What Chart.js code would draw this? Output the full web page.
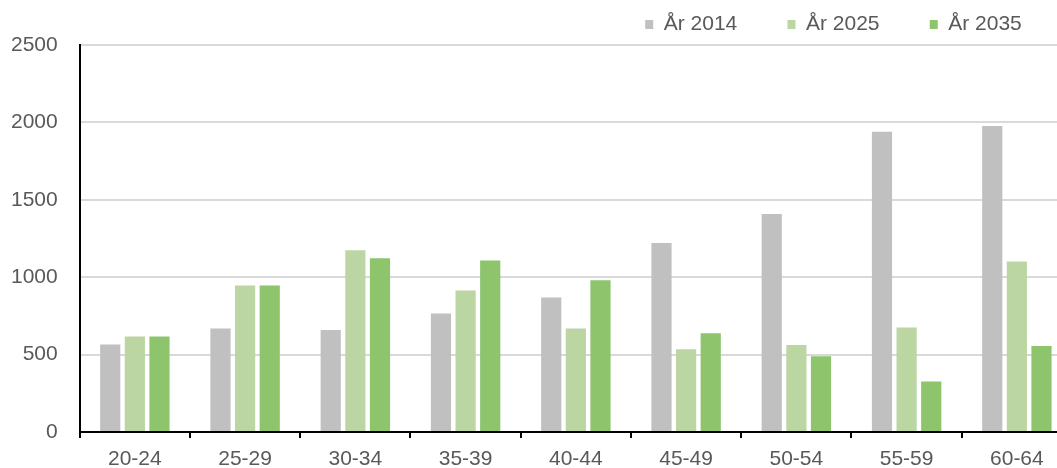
<!DOCTYPE html>
<html>
<head>
<meta charset="utf-8">
<script src="https://cdn.jsdelivr.net/npm/chart.js@4"></script>
<style>
    html, body { margin: 0; padding: 0; overflow: hidden; background: #fff; }
    #myChart { display: block; margin-left: -12px; }
</style>
</head>
<body>
<canvas id="myChart" width="1086" height="481"></canvas>
<script>
const ageGroups = ["20-24", "25-29", "30-34", "35-39", "40-44", "45-49", "50-54", "55-59", "60-64"];
const years = ["År 2014", "År 2025", "År 2035"];
const values2014 = [565, 669, 660, 766, 869, 1221, 1408, 1939, 1977];
const values2025 = [617, 947, 1175, 915, 669, 535, 563, 675, 1102];
const values2035 = [617, 947, 1123, 1109, 981, 638, 490, 326, 556];
const yTicks = [0, 500, 1000, 1500, 2000, 2500];

const colors = ["#bfc0bf", "#bbd6a3", "#8dc46c"];
const textColor = "#595959";
const fontFamily = "'Liberation Sans', Arial, sans-serif";

document.addEventListener("DOMContentLoaded", function () {
    const ctx = document.getElementById('myChart');

    new Chart(ctx, {
        type: 'bar',
        data: {
            labels: ageGroups,
            datasets: [values2014, values2025, values2035].map(function (vals, i) {
                return {
                    label: years[i],
                    data: vals,
                    backgroundColor: colors[i],
                    borderWidth: 0,
                    categoryPercentage: 0.67,
                    barPercentage: 0.82
                };
            })
        },
        options: {
            responsive: false,
            animation: false,
            devicePixelRatio: 1,
            layout: {
                padding: { top: 3, right: 2, left: 1, bottom: 0 }
            },
            plugins: {
                tooltip: { enabled: false },
                legend: {
                    position: 'top',
                    align: 'end',
                    labels: {
                        color: textColor,
                        font: { family: fontFamily, size: 21 },
                        boxWidth: 8,
                        boxHeight: 9,
                        padding: 11,
                        generateLabels: function (chart) {
                            // extra spaces to widen the gap between items
                            let items = Chart.defaults.plugins.legend.labels.generateLabels(chart);
                            items.forEach(item => {
                                item.text = item.text + "\u00a0\u00a0\u00a0\u00a0\u00a0\u00a0\u2009";
                            });
                            return items;
                        }
                    }
                }
            },
            scales: {
                x: {
                    grid: {
                        display: true,
                        drawOnChartArea: false,
                        drawTicks: true,
                        tickLength: 6,
                        color: "#000000",
                        lineWidth: 2
                    },
                    border: { display: true, color: "#000000", width: 2 },
                    ticks: {
                        color: textColor,
                        padding: 12,
                        font: { family: fontFamily, size: 21, lineHeight: 0.9 }
                    }
                },
                y: {
                    min: 0,
                    max: 2500,
                    afterBuildTicks: function (axis) {
                        axis.ticks = yTicks.map(v => ({ value: v }));
                    },
                    grid: {
                        color: "#d9d9d9",
                        lineWidth: 2,
                        drawTicks: false
                    },
                    border: { display: true, color: "#000000", width: 2 },
                    ticks: {
                        color: textColor,
                        padding: 22,
                        font: { family: fontFamily, size: 21 },
                        callback: function (value) {
                            return String(value);
                        }
                    }
                }
            }
        }
    });
});
</script>
</body>
</html>
